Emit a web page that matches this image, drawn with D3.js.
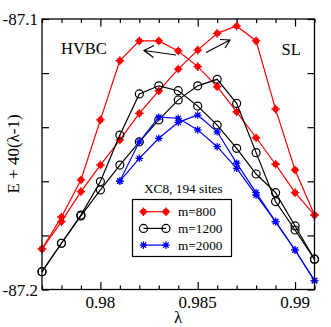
<!DOCTYPE html>
<html>
<head>
<meta charset="utf-8">
<script src="https://cdn.jsdelivr.net/npm/d3@7"></script>
<style>
body { margin: 0; background: #fff; }
text { font-family: "Liberation Serif", "DejaVu Serif", serif; }
</style>
</head>
<body>
<script>
// lambda grid
const lambdas = [0.977, 0.978, 0.979, 0.980, 0.981, 0.982, 0.983, 0.984, 0.985, 0.986, 0.987, 0.988, 0.989, 0.990, 0.991];
const lambdasBlue = [0.981, 0.982, 0.983, 0.984, 0.985, 0.986, 0.987, 0.988, 0.989, 0.990, 0.991];

// m=800
const m800HVBC = [-87.1850, -87.1732, -87.1595, -87.1373, -87.1154, -87.1081, -87.1081, -87.1118, -87.1176, -87.1250, -87.1343, -87.1439, -87.1537, -87.1642, -87.1725];
const m800SL   = [-87.1850, -87.1749, -87.1638, -87.1540, -87.1447, -87.1349, -87.1266, -87.1185, -87.1115, -87.1053, -87.1026, -87.1081, -87.1333, -87.1558, -87.1725];
// m=1200
const m1200HVBC = [-87.1934, -87.1829, -87.1725, -87.1601, -87.1429, -87.1277, -87.1247, -87.1265, -87.1322, -87.1392, -87.1478, -87.1573, -87.1642, -87.1765, -87.1888];
const m1200SL   = [-87.1934, -87.1829, -87.1728, -87.1632, -87.1540, -87.1454, -87.1373, -87.1299, -87.1247, -87.1223, -87.1312, -87.1494, -87.1675, -87.1780, -87.1888];
// m=2000
const m2000HVBC = [-87.1599, -87.1454, -87.1363, -87.1367, -87.1410, -87.1472, -87.1552, -87.1651, -87.1749, -87.1854, -87.1967];
const m2000SL   = [-87.1599, -87.1515, -87.1441, -87.1382, -87.1355, -87.1417, -87.1533, -87.1642, -87.1749, -87.1854, -87.1967];

const legendLabels = ["m=800", "m=1200", "m=2000"];
const xMajor = [0.98, 0.985, 0.99];
const xMinor = [0.977, 0.978, 0.979, 0.980, 0.981, 0.982, 0.983, 0.984, 0.985, 0.986, 0.987, 0.988, 0.989, 0.990, 0.991];
const yTicks = [-87.2, -87.18, -87.16, -87.14, -87.12, -87.1];
const yLabels = [-87.2, -87.1];

width = 331
height = 327
const L = 42, R = 314.5, T = 19, B = 289.5;

const svg = d3.select("body").append("svg")
    .attr("width", width).attr("height", height);

const x = d3.scaleLinear().domain([0.977, 0.991]).range([L, R]);
const y = d3.scaleLinear().domain([-87.2, -87.1]).range([B, T]);

// ticks, all pointing inward
function ticks(g, axis, tr) {
    const a = g.append("g").attr("transform", tr).call(axis);
    a.select(".domain").remove();
    a.selectAll("line").attr("stroke", "#000").attr("stroke-width", 1.2);
    a.selectAll("text").remove();
}
const tg = svg.append("g");
ticks(tg, d3.axisTop(x).tickValues(xMinor.filter(v => !xMajor.some(m => Math.abs(m - v) < 1e-9))).tickSize(4), `translate(0,${B})`);
ticks(tg, d3.axisTop(x).tickValues(xMajor).tickSize(7.5), `translate(0,${B})`);
ticks(tg, d3.axisBottom(x).tickValues(xMinor.filter(v => !xMajor.some(m => Math.abs(m - v) < 1e-9))).tickSize(4), `translate(0,${T})`);
ticks(tg, d3.axisBottom(x).tickValues(xMajor).tickSize(7.5), `translate(0,${T})`);
ticks(tg, d3.axisRight(y).tickValues(yTicks).tickSize(7), `translate(${L},0)`);
ticks(tg, d3.axisLeft(y).tickValues(yTicks).tickSize(7), `translate(${R},0)`);

// tick labels
svg.append("g").selectAll("text").data(xMajor).join("text")
    .attr("x", d => x(d)).attr("y", 308)
    .attr("text-anchor", "middle").attr("font-size", 17)
    .text(d => d);
svg.append("g").selectAll("text").data(yLabels).join("text")
    .attr("x", 38).attr("y", d => y(d) + 6)
    .attr("text-anchor", "end").attr("font-size", 17)
    .text(d => d3.format(".1f")(d).replace("−", "-"));

// axis titles
svg.append("text").attr("x", 178).attr("y", 323)
    .attr("text-anchor", "middle").attr("font-size", 17).text("λ");
svg.append("text").attr("transform", "translate(19,154) rotate(-90)")
    .attr("text-anchor", "middle").attr("font-size", 17).text("E + 40(λ-1)");

// series
const line = d3.line().x(d => x(d[0])).y(d => y(d[1]));
const series = [
    {xs: lambdas, ys: m800HVBC, c: "#ff0000", k: "red"},
    {xs: lambdas, ys: m800SL, c: "#ff0000", k: "red"},
    {xs: lambdas, ys: m1200HVBC, c: "#000000", k: "circ"},
    {xs: lambdas, ys: m1200SL, c: "#000000", k: "circ"},
    {xs: lambdasBlue, ys: m2000HVBC, c: "#0000ff", k: "star"},
    {xs: lambdasBlue, ys: m2000SL, c: "#0000ff", k: "star"}
];

function marker(g, kind, c, px, py) {
    if (kind == "red") {
        g.append("circle").attr("cx", px).attr("cy", py).attr("r", 3.1).attr("fill", c);
        g.append("path").attr("d", `M${px-4.3},${py}H${px+4.3}M${px},${py-4.3}V${py+4.3}`)
            .attr("stroke", c).attr("stroke-width", 1.3);
    } else if (kind == "circ") {
        g.append("circle").attr("cx", px).attr("cy", py).attr("r", 4)
            .attr("fill", "none").attr("stroke", c).attr("stroke-width", 1.2);
    } else {
        g.append("circle").attr("cx", px).attr("cy", py).attr("r", 2).attr("fill", c);
        let d = "";
        for (let i = 0; i < 4; i++) {
            const a = i * Math.PI / 4;
            d += `M${px - 3.8*Math.cos(a)},${py - 3.8*Math.sin(a)}L${px + 3.8*Math.cos(a)},${py + 3.8*Math.sin(a)}`;
        }
        g.append("path").attr("d", d).attr("stroke", c).attr("stroke-width", 1.2);
    }
}

series.forEach(s => {
    const pts = s.xs.map((v, i) => [v, s.ys[i]]);
    const g = svg.append("g");
    g.append("path").datum(pts).attr("d", line)
        .attr("fill", "none").attr("stroke", s.c).attr("stroke-width", 1.2);
    pts.forEach(p => marker(g, s.k, s.c, x(p[0]), y(p[1])));
});

// frame
svg.append("rect").attr("x", L).attr("y", T).attr("width", R - L).attr("height", B - T)
    .attr("fill", "none").attr("stroke", "#000").attr("stroke-width", 1.3);

// annotations
svg.append("text").attr("x", 61).attr("y", 54).attr("font-size", 16.5).text("HVBC");
svg.append("text").attr("x", 281.5).attr("y", 55).attr("font-size", 16.5).text("SL");

svg.append("path").attr("d", "M176,55L144,50.5M154,45.5L144,50.5L153.5,57.5")
    .attr("fill", "none").attr("stroke", "#000").attr("stroke-width", 1.2);
svg.append("path").attr("d", "M206,52.5L230,40M220,39.5L230,40L225,48")
    .attr("fill", "none").attr("stroke", "#000").attr("stroke-width", 1.2);

// legend
svg.append("text").attr("x", 144).attr("y", 193).attr("font-size", 13.3).text("XC8, 194 sites");
svg.append("rect").attr("x", 132.5).attr("y", 199.5).attr("width", 99).attr("height", 57)
    .attr("fill", "#fff").attr("stroke", "#000").attr("stroke-width", 1.2);
const kinds = [["red", "#ff0000"], ["circ", "#000000"], ["star", "#0000ff"]];
legendLabels.forEach((lab, i) => {
    const ly = 211.7 + i * 16.7;
    const g = svg.append("g");
    g.append("line").attr("x1", 143.5).attr("x2", 166).attr("y1", ly).attr("y2", ly)
        .attr("stroke", kinds[i][1]).attr("stroke-width", 1.2);
    marker(g, kinds[i][0], kinds[i][1], 143.5, ly);
    marker(g, kinds[i][0], kinds[i][1], 166, ly);
    g.append("text").attr("x", 178).attr("y", ly + 4.5).attr("font-size", 13.3).text(lab);
});
</script>
</body>
</html>
